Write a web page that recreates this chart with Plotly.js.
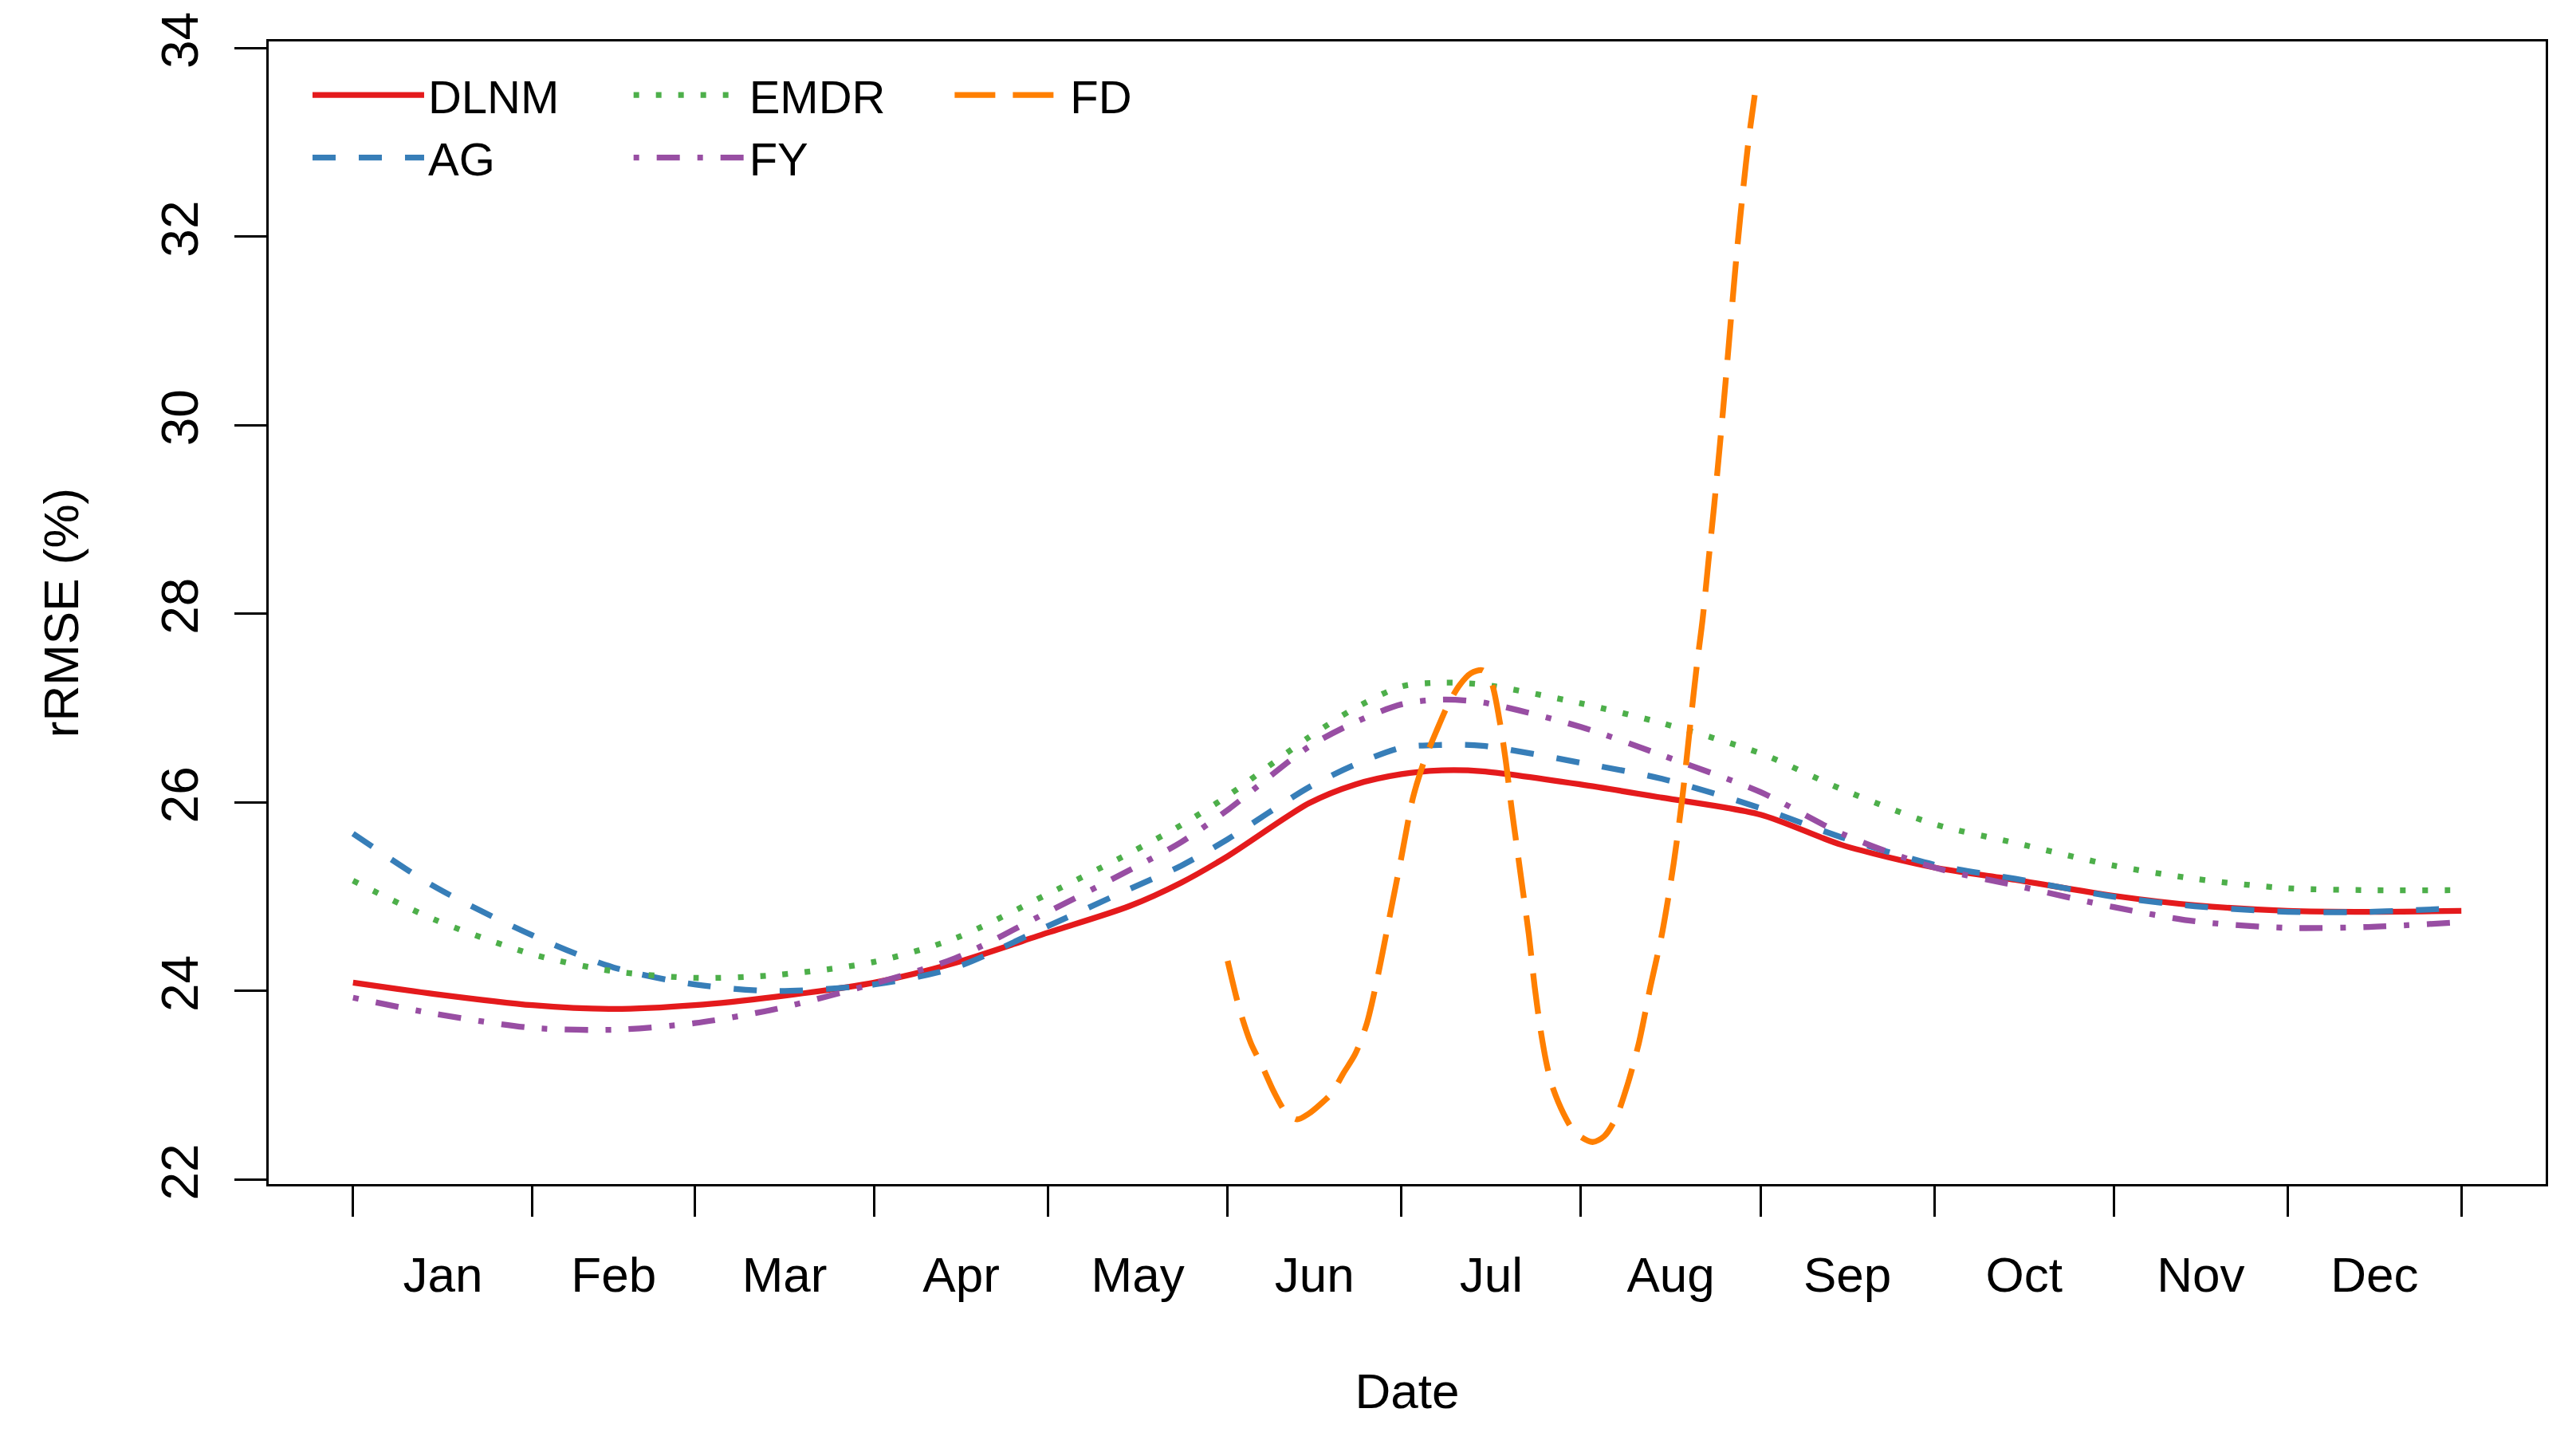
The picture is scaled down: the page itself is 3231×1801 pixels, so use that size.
<!DOCTYPE html>
<html><head><meta charset="utf-8">
<script src="https://cdn.plot.ly/plotly-3.0.1.min.js"></script>
<style>html,body{margin:0;padding:0;background:#fff}#plot{width:3231px;height:1801px}</style>
</head><body><div id="plot"></div><script>
// day of year sample points
const days = [1, 15, 32, 46, 60, 74, 91, 105, 121, 135, 144, 152, 166, 174, 182, 189, 196, 213, 227, 244, 258, 274, 288, 305, 319, 335, 349, 365];
const dlnm = [24.09, 23.97, 23.85, 23.81, 23.85, 23.94, 24.09, 24.30, 24.62, 24.90, 25.15, 25.43, 25.99, 26.19, 26.30, 26.34, 26.33, 26.19, 26.05, 25.87, 25.55, 25.31, 25.18, 25.01, 24.91, 24.85, 24.84, 24.85];
const ag   = [25.67, 25.11, 24.59, 24.25, 24.07, 24.00, 24.07, 24.25, 24.69, 25.08, 25.33, 25.61, 26.16, 26.40, 26.58, 26.61, 26.60, 26.42, 26.25, 25.94, 25.63, 25.34, 25.19, 25.00, 24.90, 24.84, 24.84, 24.88];
const emdr = [25.17, 24.76, 24.39, 24.21, 24.14, 24.17, 24.31, 24.56, 25.03, 25.46, 25.76, 26.07, 26.69, 27.00, 27.23, 27.27, 27.25, 27.05, 26.84, 26.52, 26.14, 25.77, 25.57, 25.33, 25.19, 25.09, 25.07, 25.07];
const fy   = [23.93, 23.76, 23.61, 23.59, 23.66, 23.81, 24.08, 24.35, 24.84, 25.28, 25.58, 25.92, 26.59, 26.85, 27.04, 27.09, 27.06, 26.80, 26.50, 26.11, 25.67, 25.31, 25.12, 24.89, 24.74, 24.67, 24.68, 24.73];
// FD only covers June-August
const fdDays = [152, 154, 156, 158, 160, 162, 164, 166, 168, 170, 172, 174, 176, 178, 180, 182, 184, 186, 188, 190, 192, 194, 196, 197.5, 199, 200, 201, 202, 203, 204, 205, 206, 207, 208, 210, 212, 215, 217, 219, 221, 223, 225, 227, 229, 230.5, 232, 233, 234, 235, 236, 237, 238, 239, 240, 241, 242, 243];
const fd     = [24.32, 23.82, 23.45, 23.20, 22.93, 22.72, 22.64, 22.70, 22.80, 22.92, 23.13, 23.33, 23.65, 24.18, 24.80, 25.42, 26.05, 26.45, 26.75, 27.03, 27.24, 27.37, 27.40, 27.28, 26.85, 26.45, 25.95, 25.50, 25.05, 24.60, 24.05, 23.60, 23.25, 23.00, 22.70, 22.50, 22.40, 22.46, 22.65, 23.00, 23.45, 24.05, 24.61, 25.35, 26.05, 26.90, 27.45, 27.94, 28.55, 29.15, 29.80, 30.48, 31.20, 31.89, 32.50, 33.05, 33.50];

const monthStarts = [1, 32, 60, 91, 121, 152, 182, 213, 244, 274, 305, 335, 365];
const monthLabels = ['Jan','Feb','Mar','Apr','May','Jun','Jul','Aug','Sep','Oct','Nov','Dec'];
const yTicks = [22, 24, 26, 28, 30, 32, 34];

const monthMids = monthLabels.map((m, i) => (monthStarts[i] + monthStarts[i + 1]) / 2);
const LW = 7.3;
const FONT = 'Liberation Sans, Arial, Helvetica, sans-serif';

function tr(name, x, y, color, dash, legend) {
  return {type: 'scatter', mode: 'lines', name: name, x: x, y: y,
    line: {color: color, width: LW, dash: dash, shape: 'spline', smoothing: 0.8},
    legend: legend, hoverinfo: 'skip'};
}

const data = [
  tr('DLNM', days, dlnm, '#E41A1C', 'solid', 'legend'),
  tr('AG', days, ag, '#377EB8', '29px,29px', 'legend'),
  tr('EMDR', days, emdr, '#4DAF4A', '7px,21px', 'legend2'),
  tr('FY', days, fy, '#984EA3', '7px,22px,29px,22px', 'legend2'),
  tr('FD', fdDays, fd, '#FF7F00', '51px,22px', 'legend3'),
  {type: 'scatter', mode: 'lines', x: [], y: [], xaxis: 'x2', showlegend: false, hoverinfo: 'skip'}
];

const legBase = {xanchor: 'left', yanchor: 'top', y: 0.984, bgcolor: 'rgba(0,0,0,0)', borderwidth: 0,
  font: {family: FONT, size: 58, color: '#000'}, itemwidth: 140, tracegroupgap: 0, orientation: 'v'};

const layout = {
  width: 3231, height: 1801,
  margin: {l: 337, r: 38, t: 52, b: 316},
  paper_bgcolor: '#fff', plot_bgcolor: '#fff',
  font: {family: FONT, size: 62, color: '#000'},
  showlegend: true,
  xaxis: {
    range: [-13.56, 379.56], tickmode: 'array', tickvals: monthStarts,
    ticktext: monthStarts.map(() => ''), ticks: 'outside', ticklen: 38, tickwidth: 3, tickcolor: '#000',
    showline: true, linewidth: 3, linecolor: '#000', mirror: true,
    showgrid: false, zeroline: false,
    title: {text: 'Date', font: {family: FONT, size: 62}, standoff: 186}
  },
  xaxis2: {
    overlaying: 'x', matches: 'x', side: 'bottom', anchor: 'y',
    range: [-13.56, 379.56], tickmode: 'array', tickvals: monthMids, ticktext: monthLabels,
    ticks: '', showline: false, showgrid: false, zeroline: false,
    tickfont: {family: FONT, size: 62, color: '#000'}, ticklabelstandoff: 72
  },
  yaxis: {
    range: [21.954, 34.068], tickmode: 'array', tickvals: yTicks, ticktext: yTicks.map(String),
    ticks: 'outside', ticklen: 40, tickwidth: 3, tickcolor: '#000', tickangle: -90,
    tickfont: {family: FONT, size: 64}, ticklabelstandoff: 20,
    showline: true, linewidth: 3, linecolor: '#000', mirror: true,
    showgrid: false, zeroline: false,
    title: {text: 'rRMSE (%)', font: {family: FONT, size: 62}, standoff: 72}
  },
  legend: Object.assign({}, legBase, {x: 0.0175}),
  legend2: Object.assign({}, legBase, {x: 0.1585}),
  legend3: Object.assign({}, legBase, {x: 0.2995})
};

Plotly.newPlot('plot', data, layout, {staticPlot: true, displayModeBar: false});
</script></body></html>
